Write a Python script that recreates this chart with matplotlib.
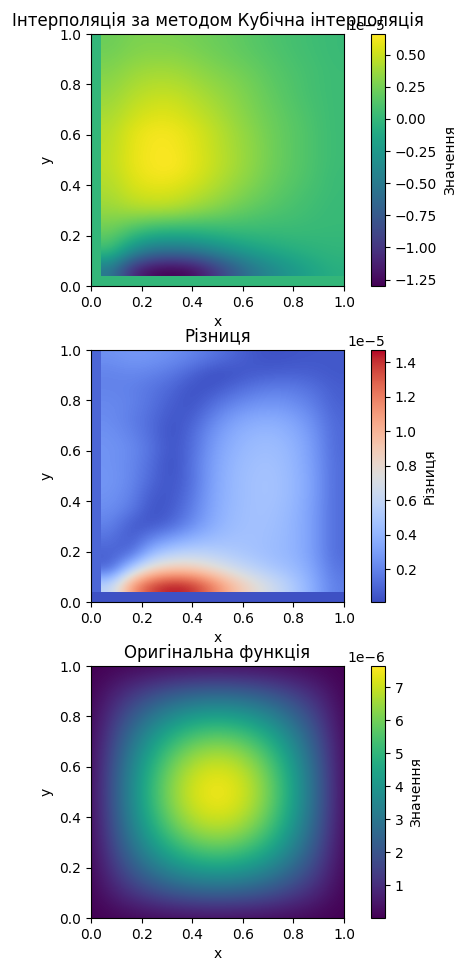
import numpy as np
import matplotlib
matplotlib.use("Agg")
import matplotlib.pyplot as plt

# interpolated surface (values in 1e-5)
# samples cover x 0.04..1.0 (12 columns) and y 0.04..1.0 (16 rows, bottom row first)
interp_vals = [
    [-0.50, -1.06, -1.26, -1.30, -1.25, -1.03, -0.76, -0.53, -0.37, -0.25, -0.15, -0.07],
    [-0.01, -0.40, -0.63, -0.67, -0.62, -0.49, -0.35, -0.24, -0.16, -0.10, -0.05, -0.02],
    [0.16, -0.04, -0.18, -0.21, -0.19, -0.13, -0.08, -0.04, -0.02, 0.00, 0.00, 0.00],
    [0.27, 0.21, 0.16, 0.14, 0.12, 0.11, 0.10, 0.08, 0.06, 0.05, 0.03, 0.02],
    [0.36, 0.42, 0.44, 0.43, 0.37, 0.31, 0.24, 0.18, 0.13, 0.09, 0.05, 0.02],
    [0.41, 0.51, 0.55, 0.54, 0.48, 0.41, 0.33, 0.25, 0.18, 0.12, 0.07, 0.03],
    [0.44, 0.56, 0.62, 0.62, 0.56, 0.47, 0.38, 0.30, 0.21, 0.15, 0.09, 0.03],
    [0.46, 0.59, 0.64, 0.66, 0.59, 0.50, 0.41, 0.32, 0.23, 0.16, 0.10, 0.04],
    [0.45, 0.58, 0.64, 0.64, 0.58, 0.49, 0.40, 0.32, 0.23, 0.16, 0.10, 0.04],
    [0.44, 0.57, 0.63, 0.63, 0.57, 0.48, 0.39, 0.31, 0.22, 0.16, 0.10, 0.04],
    [0.41, 0.51, 0.57, 0.57, 0.51, 0.44, 0.36, 0.28, 0.21, 0.15, 0.09, 0.04],
    [0.37, 0.46, 0.51, 0.52, 0.46, 0.40, 0.33, 0.26, 0.19, 0.13, 0.08, 0.04],
    [0.33, 0.41, 0.45, 0.45, 0.41, 0.35, 0.30, 0.24, 0.17, 0.12, 0.07, 0.04],
    [0.29, 0.36, 0.39, 0.39, 0.35, 0.30, 0.26, 0.21, 0.15, 0.11, 0.07, 0.04],
    [0.25, 0.30, 0.32, 0.32, 0.29, 0.25, 0.21, 0.17, 0.13, 0.09, 0.06, 0.03],
    [0.22, 0.27, 0.28, 0.27, 0.25, 0.22, 0.19, 0.15, 0.11, 0.08, 0.05, 0.03],
]
# outside the sample points the interpolation is 0
interp_bottom_strip = [[0.0]]
interp_left_strip = [[0.0]]

# difference (values in 1e-5), same sample layout
diff_vals = [
    [0.58, 1.12, 1.38, 1.47, 1.42, 1.22, 0.98, 0.80, 0.66, 0.52, 0.36, 0.18],
    [0.09, 0.55, 0.84, 0.92, 0.91, 0.80, 0.68, 0.58, 0.50, 0.44, 0.33, 0.15],
    [0.08, 0.12, 0.45, 0.57, 0.60, 0.57, 0.52, 0.48, 0.44, 0.40, 0.30, 0.12],
    [0.14, 0.05, 0.21, 0.31, 0.39, 0.44, 0.47, 0.47, 0.45, 0.40, 0.30, 0.12],
    [0.20, 0.06, 0.04, 0.10, 0.23, 0.36, 0.44, 0.47, 0.46, 0.40, 0.30, 0.12],
    [0.24, 0.17, 0.03, 0.06, 0.18, 0.34, 0.43, 0.47, 0.47, 0.41, 0.30, 0.12],
    [0.26, 0.20, 0.06, 0.04, 0.15, 0.33, 0.42, 0.47, 0.48, 0.42, 0.31, 0.12],
    [0.27, 0.22, 0.10, 0.03, 0.13, 0.32, 0.42, 0.47, 0.48, 0.42, 0.31, 0.12],
    [0.26, 0.22, 0.12, 0.01, 0.14, 0.31, 0.41, 0.46, 0.47, 0.41, 0.30, 0.12],
    [0.26, 0.23, 0.14, 0.03, 0.12, 0.29, 0.39, 0.44, 0.45, 0.40, 0.29, 0.11],
    [0.25, 0.20, 0.12, 0.02, 0.11, 0.26, 0.36, 0.41, 0.42, 0.37, 0.27, 0.11],
    [0.23, 0.18, 0.12, 0.04, 0.07, 0.20, 0.30, 0.35, 0.36, 0.32, 0.23, 0.10],
    [0.22, 0.20, 0.14, 0.07, 0.03, 0.12, 0.20, 0.25, 0.27, 0.24, 0.18, 0.08],
    [0.20, 0.19, 0.15, 0.10, 0.03, 0.04, 0.10, 0.15, 0.18, 0.17, 0.13, 0.07],
    [0.20, 0.22, 0.20, 0.16, 0.09, 0.02, 0.03, 0.06, 0.07, 0.08, 0.07, 0.05],
    [0.25, 0.28, 0.27, 0.24, 0.20, 0.15, 0.10, 0.05, 0.03, 0.04, 0.05, 0.05],
]
diff_bottom_strip = [[0.03]]
diff_left_strip = [[0.10]]

# original function on x, y = 0, 0.1, ..., 1.0 (values in 1e-6)
orig_vals = [
    [0.01, 0.05, 0.09, 0.12, 0.14, 0.15, 0.14, 0.12, 0.09, 0.05, 0.01],
    [0.05, 0.73, 1.38, 1.90, 2.23, 2.35, 2.23, 1.90, 1.38, 0.73, 0.05],
    [0.09, 1.38, 2.63, 3.62, 4.25, 4.47, 4.25, 3.62, 2.63, 1.38, 0.09],
    [0.12, 1.90, 3.62, 4.98, 5.85, 6.15, 5.85, 4.98, 3.62, 1.90, 0.12],
    [0.14, 2.23, 4.25, 5.85, 6.88, 7.23, 6.88, 5.85, 4.25, 2.23, 0.14],
    [0.15, 2.35, 4.47, 6.15, 7.23, 7.65, 7.23, 6.15, 4.47, 2.35, 0.15],
    [0.14, 2.23, 4.25, 5.85, 6.88, 7.23, 6.88, 5.85, 4.25, 2.23, 0.14],
    [0.12, 1.90, 3.62, 4.98, 5.85, 6.15, 5.85, 4.98, 3.62, 1.90, 0.12],
    [0.09, 1.38, 2.63, 3.62, 4.25, 4.47, 4.25, 3.62, 2.63, 1.38, 0.09],
    [0.05, 0.73, 1.38, 1.90, 2.23, 2.35, 2.23, 1.90, 1.38, 0.73, 0.05],
    [0.01, 0.05, 0.09, 0.12, 0.14, 0.15, 0.14, 0.12, 0.09, 0.05, 0.01],
]

Z_interp = np.array(interp_vals) * 1e-5
Z_diff = np.array(diff_vals) * 1e-5
Z_orig = np.array(orig_vals) * 1e-6

W, H = 457.0, 963.0
fig = plt.figure(figsize=(W / 100, H / 100), dpi=100)


def make_axes(bottom_px):
    ax = fig.add_axes([91 / W, 1 - bottom_px / H, 253 / W, 252 / H])
    cax = fig.add_axes([371 / W, 1 - bottom_px / H, 14 / W, 252 / H])
    return ax, cax


def finish(ax, cax, im, title, cblabel):
    ax.set_xlim(0, 1)
    ax.set_ylim(0, 1)
    ax.set_title(title)
    ax.set_xlabel("x")
    ax.set_ylabel("y")
    cb = fig.colorbar(im, cax=cax)
    cb.set_label(cblabel)


# panels 1 and 2: sampled region plus the zero-filled strips at the edges
for Z, bstrip, lstrip, scale, cmap, title, cblabel, bottom_px in [
    (Z_interp, interp_bottom_strip, interp_left_strip, 1e-5, "viridis",
     "Інтерполяція за методом Кубічна інтерполяція", "Значення", 286),
    (Z_diff, diff_bottom_strip, diff_left_strip, 1e-5, "coolwarm",
     "Різниця", "Різниця", 602),
]:
    ax, cax = make_axes(bottom_px)
    vmin, vmax = Z.min(), Z.max()
    kw = dict(cmap=cmap, vmin=vmin, vmax=vmax, origin="lower", aspect="auto")
    ax.imshow(np.array(bstrip) * scale, extent=[0, 1, 0, 0.04], **kw)
    ax.imshow(np.array(lstrip) * scale, extent=[0, 0.04, 0.04, 1], **kw)
    im = ax.imshow(Z, extent=[0.04, 1, 0.04, 1], interpolation="bicubic", **kw)
    finish(ax, cax, im, title, cblabel)

# panel 3: original function
ax, cax = make_axes(918)
im = ax.imshow(Z_orig, extent=[-0.05, 1.05, -0.05, 1.05], origin="lower",
               aspect="auto", cmap="viridis", interpolation="bicubic")
finish(ax, cax, im, "Оригінальна функція", "Значення")

plt.savefig("out.png", dpi=100)
